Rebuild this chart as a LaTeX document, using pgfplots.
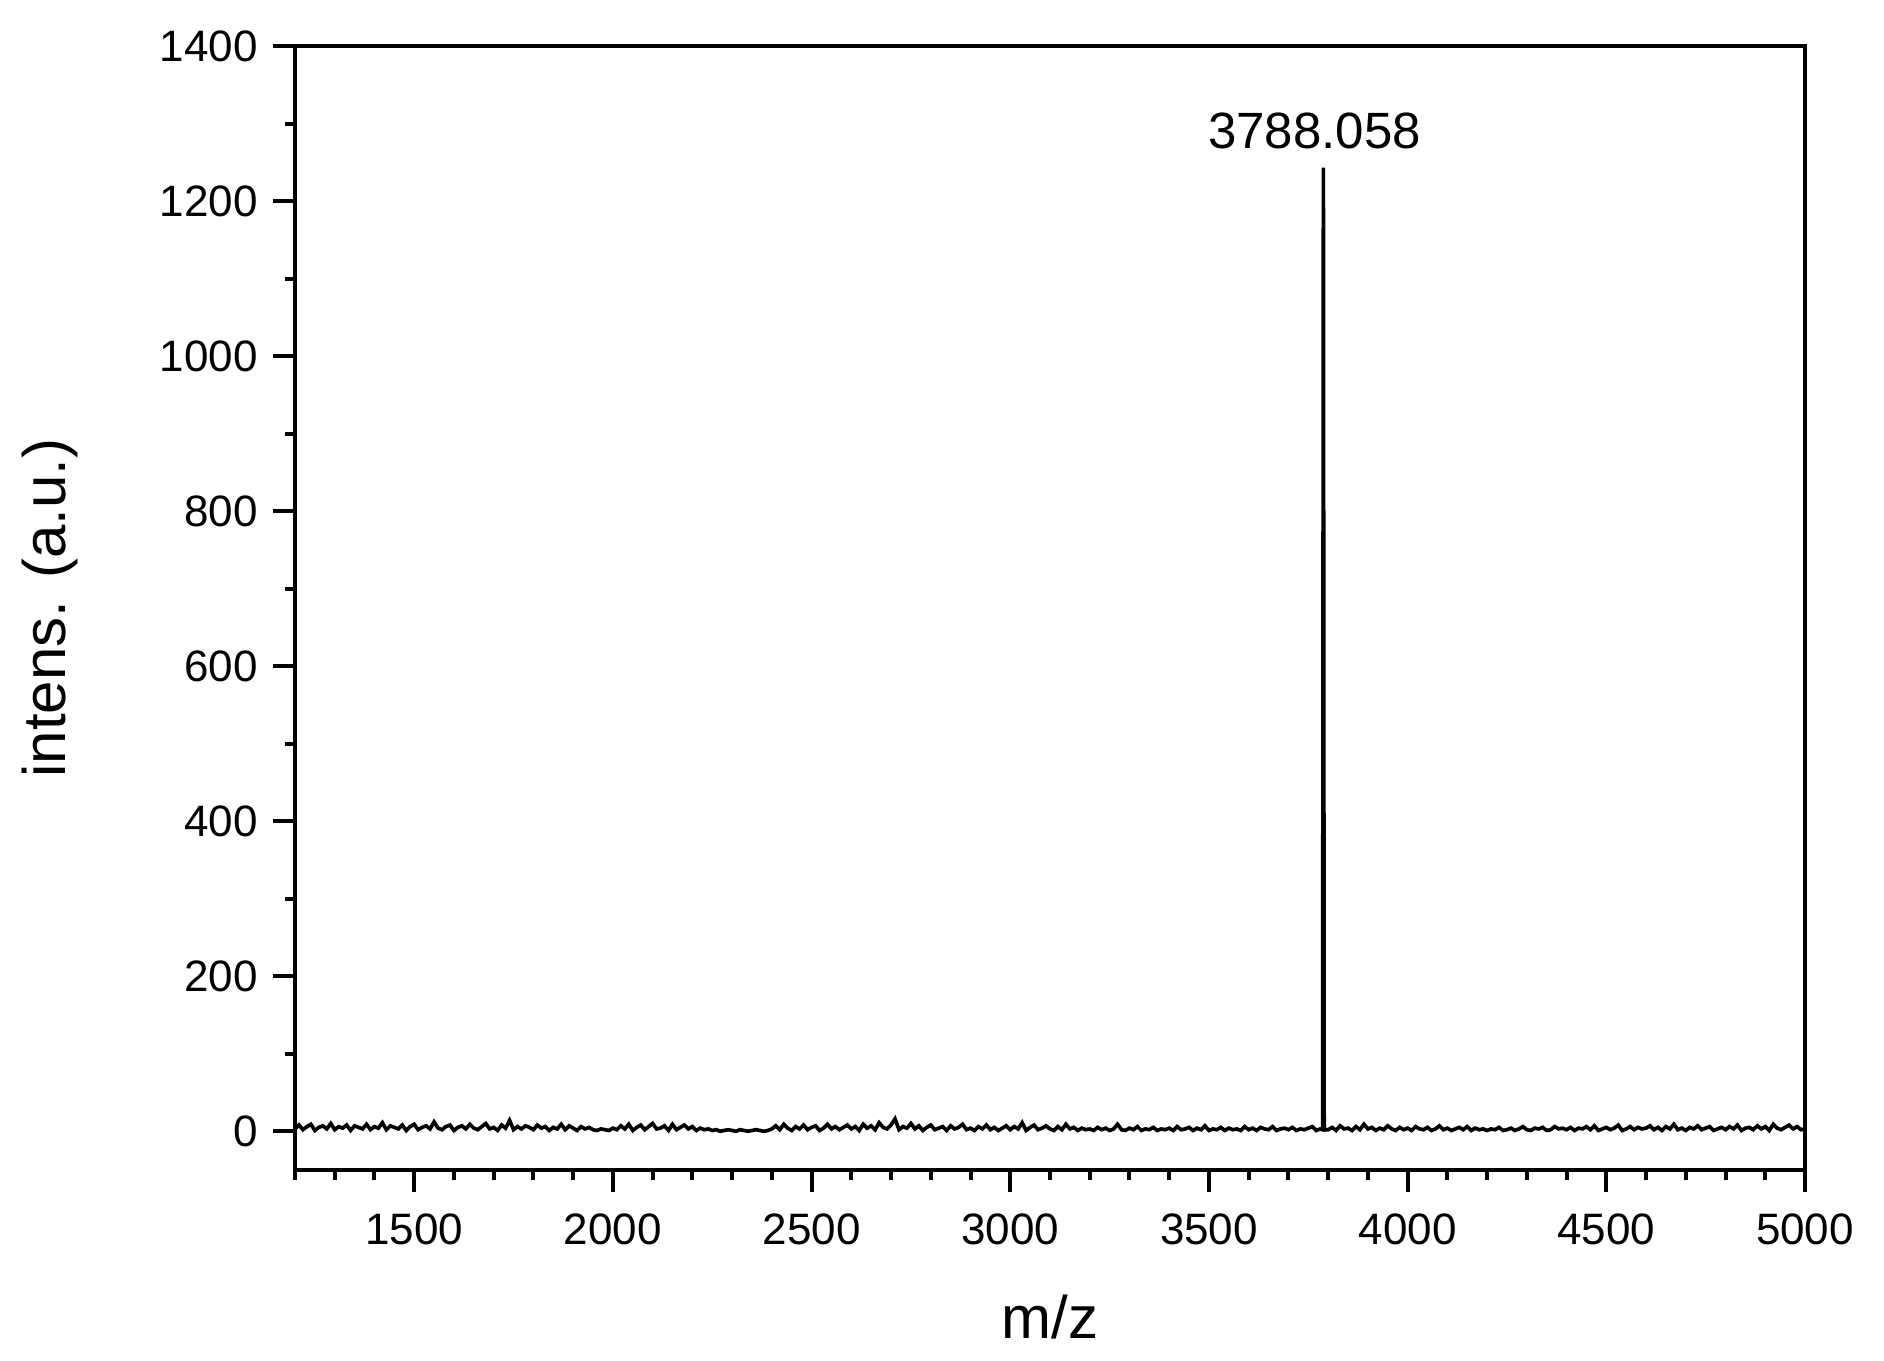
\documentclass[border=0pt]{standalone}
\usepackage{fontspec}
\setmainfont{Liberation Sans}
\usepackage{pgfplots}
\pgfplotsset{compat=1.18}
\pgfplotstableread{
x y
1200 3
1210 8
1220 2
1230 6
1240 9
1250 1
1260 5
1270 7
1280 3
1290 10
1300 2
1310 6
1320 4
1330 8
1340 1
1350 7
1360 5
1370 3
1380 9
1390 2
1400 6
1410 4
1420 11
1430 2
1440 7
1450 5
1460 3
1470 8
1480 1
1490 6
1500 9
1510 2
1520 5
1530 7
1540 3
1550 12
1560 4
1570 2
1580 6
1590 8
1600 1
1610 5
1620 7
1630 3
1640 9
1650 4
1660 2
1670 6
1680 10
1690 3
1700 5
1710 1
1720 8
1730 4
1740 14
1750 2
1760 6
1770 3
1780 7
1790 5
1800 2
1810 8
1820 4
1830 6
1840 1
1850 5
1860 3
1870 9
1880 2
1890 7
1900 4
1910 1
1920 6
1930 3
1940 5
1950 2
1960 1
1970 3
1980 2
1990 1
2000 4
2010 2
2020 7
2030 3
2040 9
2050 1
2060 5
2070 8
2080 2
2090 6
2100 10
2110 3
2120 4
2130 7
2140 1
2150 9
2160 2
2170 5
2180 8
2190 3
2200 6
2210 1
2220 4
2230 2
2240 3
2250 1
2260 2
2270 0
2280 1
2290 2
2300 1
2310 0
2320 2
2330 1
2340 0
2350 1
2360 2
2370 1
2380 0
2390 1
2400 3
2410 7
2420 2
2430 9
2440 4
2450 1
2460 6
2470 3
2480 8
2490 2
2500 5
2510 7
2520 1
2530 4
2540 9
2550 3
2560 6
2570 2
2580 5
2590 8
2600 3
2610 6
2620 1
2630 9
2640 4
2650 7
2660 2
2670 11
2680 5
2690 3
2700 8
2710 16
2720 2
2730 6
2740 4
2750 10
2760 3
2770 7
2780 1
2790 5
2800 8
2810 2
2820 4
2830 6
2840 1
2850 7
2860 3
2870 5
2880 9
2890 2
2900 4
2910 1
2920 6
2930 3
2940 8
2950 2
2960 5
2970 1
2980 4
2990 7
3000 2
3010 6
3020 3
3030 11
3040 1
3050 5
3060 8
3070 2
3080 4
3090 7
3100 3
3110 1
3120 6
3130 2
3140 9
3150 3
3160 5
3170 1
3180 4
3190 2
3200 3
3210 1
3220 5
3230 2
3240 4
3250 1
3260 3
3270 9
3280 2
3290 1
3300 4
3310 2
3320 6
3330 1
3340 3
3350 2
3360 5
3370 1
3380 3
3390 2
3400 4
3410 1
3420 6
3430 2
3440 3
3450 5
3460 1
3470 4
3480 2
3490 7
3500 1
3510 3
3520 2
3530 5
3540 1
3550 4
3560 2
3570 3
3580 1
3590 6
3600 2
3610 4
3620 1
3630 5
3640 3
3650 2
3660 6
3670 1
3680 3
3690 4
3700 2
3710 5
3720 1
3730 3
3740 2
3750 4
3760 6
3770 1
3780 3
3786 2
3788 1243
3790 2
3800 2
3810 5
3820 1
3830 7
3840 3
3850 4
3860 1
3870 6
3880 2
3890 9
3900 3
3910 5
3920 1
3930 4
3940 2
3950 7
3960 3
3970 1
3980 5
3990 2
4000 4
4010 1
4020 6
4030 3
4040 2
4050 5
4060 1
4070 3
4080 7
4090 2
4100 4
4110 1
4120 3
4130 5
4140 2
4150 6
4160 1
4170 4
4180 2
4190 3
4200 1
4210 3
4220 2
4230 5
4240 1
4250 2
4260 4
4270 1
4280 3
4290 6
4300 2
4310 1
4320 4
4330 3
4340 5
4350 1
4360 2
4370 6
4380 3
4390 4
4400 2
4410 5
4420 1
4430 4
4440 3
4450 6
4460 2
4470 7
4480 1
4490 3
4500 5
4510 2
4520 4
4530 8
4540 1
4550 3
4560 6
4570 2
4580 5
4590 3
4600 4
4610 7
4620 2
4630 5
4640 1
4650 6
4660 3
4670 9
4680 2
4690 4
4700 1
4710 5
4720 3
4730 7
4740 2
4750 4
4760 6
4770 1
4780 3
4790 5
4800 2
4810 6
4820 3
4830 8
4840 1
4850 4
4860 5
4870 2
4880 7
4890 3
4900 6
4910 1
4920 9
4930 4
4940 2
4950 5
4960 8
4970 3
4980 6
4990 2
5000 3
}\spectrum
\begin{document}
\begin{tikzpicture}
\begin{axis}[
  at={(0,0)}, anchor=south west,
  scale only axis, width=453pt, height=337.2pt,
  xmin=1200, xmax=5000, ymin=-50, ymax=1400,
  xtick={1500,2000,...,5000}, minor xtick={1200,1300,...,5000},
  ytick={0,200,...,1400}, minor ytick={100,300,...,1300},
  tick align=outside, xtick pos=bottom, ytick pos=left,
  major tick length=6.6pt, minor tick length=3pt,
  axis line style={line width=1.2pt},
  every tick/.append style={black, line width=1.2pt},
  tick label style={font=\fontsize{13.2}{15}\selectfont},
  xticklabel style={yshift=-3pt},
  yticklabel style={xshift=-1pt},
  /pgf/number format/assume math mode=true,
  /pgf/number format/set thousands separator={},
  xlabel={m/z}, ylabel={intens. (a.u.)},
  label style={font=\fontsize{18}{21}\selectfont},
  xlabel style={at={(axis description cs:0.5,-0.1495)}, anchor=base},
  ylabel style={at={(axis description cs:-0.1623,0.5)}, anchor=center},
]
\addplot[black, line width=1.1pt, mark=none] table[x=x,y=y] {\spectrum};
\node[font=\fontsize{15.3}{18}\selectfont, anchor=base] at (axis cs:3766,1268) {3788.058};
\end{axis}
\pgfresetboundingbox
\useasboundingbox (-88.5pt,-57pt) rectangle (476.7pt,351pt);
\end{tikzpicture}
\end{document}
